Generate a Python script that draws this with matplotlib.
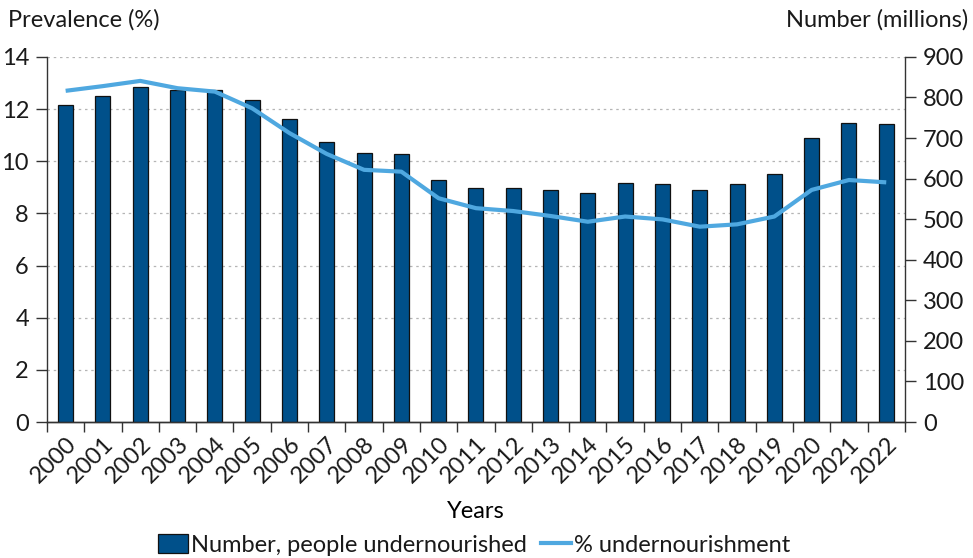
import matplotlib
matplotlib.use("Agg")
import matplotlib.pyplot as plt
from matplotlib.patches import Patch
from matplotlib.lines import Line2D
import numpy as np

BAR_COLOR = "#00508A"
LINE_COLOR = "#4FA8E0"
TEXT_COLOR = "#1a1a1a"
FS = 17

plt.rcParams.update({
    "font.family": ["Lato", "DejaVu Sans"],
    "font.size": FS,
    "text.color": TEXT_COLOR,
    "axes.edgecolor": "#333333",
    "xtick.color": "#333333",
    "ytick.color": "#333333",
    "xtick.labelcolor": TEXT_COLOR,
    "ytick.labelcolor": TEXT_COLOR,
})

years = [str(y) for y in range(2000, 2023)]
number_millions = [782, 804, 827, 819, 819, 793, 746, 690, 662, 661, 597, 578,
                   578, 571, 564, 588, 586, 571, 586, 612, 701, 738, 734]
prevalence_pct = [12.70, 12.88, 13.08, 12.80, 12.67, 12.03, 11.08, 10.28, 9.67, 9.60,
                  8.58, 8.20, 8.09, 7.90, 7.68, 7.88, 7.77, 7.49, 7.58, 7.88,
                  8.90, 9.28, 9.19]

x = np.arange(len(years))

fig = plt.figure(figsize=(9.73, 5.58), dpi=100)
ax = fig.add_axes([0.0483, 0.2437, 0.8817, 0.6543])
ax2 = ax.twinx()
ax3 = ax.twinx()

# left axis (prevalence) with the grid underneath everything
ax.set_ylim(0, 14)
ax.set_yticks(np.arange(0, 15, 2))
ax.set_xlim(-0.5, len(years) - 0.5)
ax.grid(axis="y", color="#b5b5b5", linestyle=(0, (2, 3)), linewidth=0.9)
ax.set_axisbelow(True)
for gl in ax.get_ygridlines()[:1]:
    gl.set_visible(False)

# bars on right axis (millions)
ax2.bar(x, number_millions, width=0.4, color=BAR_COLOR, edgecolor="#111111",
        linewidth=0.9, zorder=2)
ax2.set_ylim(0, 900)
ax2.set_yticks(np.arange(0, 901, 100))

# line on a hidden twin that shares the % scale
ax3.plot(x, prevalence_pct, color=LINE_COLOR, linewidth=3, solid_capstyle="butt")
ax3.set_ylim(0, 14)
ax3.axis("off")

for a in (ax, ax2):
    a.spines["top"].set_visible(False)
    a.spines["left"].set_linewidth(1.0)
    a.spines["right"].set_linewidth(1.0)
    a.spines["bottom"].set_linewidth(1.0)
ax.spines["right"].set_visible(False)
ax2.spines["left"].set_visible(False)

ax.tick_params(axis="y", direction="out", length=8, width=1, pad=5, labelsize=FS)
ax2.tick_params(axis="y", direction="out", length=8, width=1, pad=5, labelsize=FS)

# x ticks between bars, labels at bar centres
ax.set_xticks(np.arange(-0.5, len(years), 1.0))
ax.set_xticklabels([])
ax.tick_params(axis="x", which="major", direction="out", length=7, width=1)
ax.set_xticks(x, minor=True)
ax.set_xticklabels(years, minor=True, rotation=45, ha="right",
                   rotation_mode="anchor", fontsize=FS)
ax.tick_params(axis="x", which="minor", length=0, pad=8)

ax.set_xlabel("Years", fontsize=FS, labelpad=10)

fig.text(0.008, 0.965, "Prevalence (%)", fontsize=FS, ha="left", va="center")
fig.text(0.995, 0.965, "Number (millions)", fontsize=FS, ha="right", va="center")

handles = [
    Patch(facecolor=BAR_COLOR, edgecolor="#111111", linewidth=0.9),
    Line2D([0], [0], color=LINE_COLOR, linewidth=3),
]
labels = ["Number, people undernourished", "% undernourishment"]
fig.legend(handles, labels, loc="center", bbox_to_anchor=(0.487, 0.024),
           ncol=2, frameon=False, fontsize=FS, handlelength=1.3,
           handleheight=0.9, handletextpad=0.1, columnspacing=0.6)

fig.savefig("out.png", dpi=100)
